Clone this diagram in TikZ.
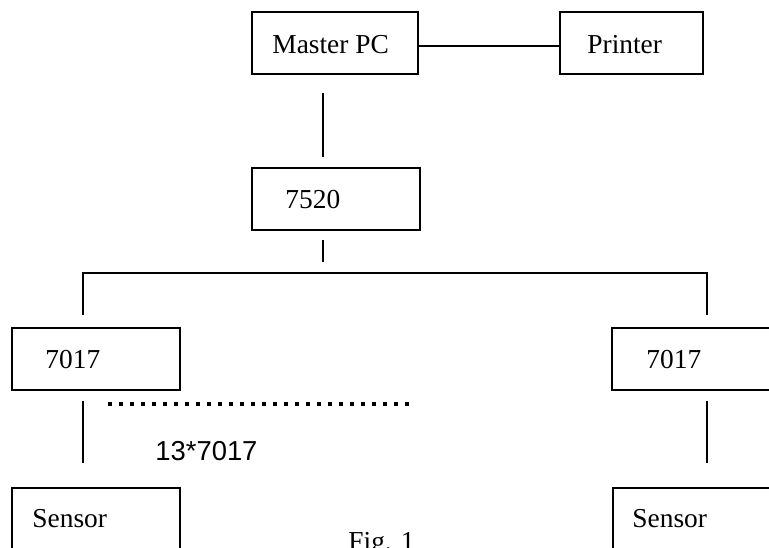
\documentclass[tikz,border=0pt]{standalone}
\usepackage{fontspec}
\setmainfont{Liberation Serif}
\setsansfont{Liberation Sans}
\begin{document}
\begin{tikzpicture}[x=0.5pt, y=-0.5pt,
    unit/.style={draw, line width=0.9pt, minimum height=31pt, inner sep=0pt, anchor=north west},
    txt/.style={anchor=base west, inner sep=0pt, font=\fontsize{13.7}{16}\selectfont},
    wire/.style={line width=0.85pt}]
    \useasboundingbox (0,0) rectangle (769,547);
    \clip (0,0) rectangle (769,547);
    \def\wide{84pt}

    % boxes
    \node[unit, minimum width=83pt] (mpc) at (251,11) {};
    \node[unit, minimum width=71.5pt] (prn) at (559,11) {};
    \node[unit, minimum width=\wide] (hub) at (251,167) {};
    \node[unit, minimum width=\wide] (modL) at (11,327) {};
    \node[unit, minimum width=\wide] (modR) at (611,327) {};
    \node[unit, minimum width=\wide] (senL) at (11,487) {};
    \node[unit, minimum width=\wide] (senR) at (612,487) {};

    % texts
    \node[txt] (mpcT) at (272,53) {Master PC};
    \node[txt] (prnT) at (587,53) {Printer};
    \node[txt] (hubT) at (285,208) {7520};
    \node[txt] (modLT) at (45,368) {7017};
    \node[txt] (modRT) at (646,368) {7017};
    \node[txt] (senLT) at (32,527) {Sensor};
    \node[txt] (senRT) at (632,527) {Sensor};
    \node[txt, font=\sffamily\fontsize{13.7}{16}\selectfont] (count) at (155,460) {13*7017};
    \node[txt] (fig) at (348,550) {Fig. 1};

    % connector ends
    \coordinate (A1) at (323,93);
    \coordinate (A2) at (323,157);
    \coordinate (B1) at (323,240);
    \coordinate (B2) at (323,262);
    \coordinate (L1) at (83,315);
    \coordinate (L2) at (83,273);
    \coordinate (R2) at (707,273);
    \coordinate (R1) at (707,315);
    \coordinate (L3) at (83,401);
    \coordinate (L4) at (83,463);
    \coordinate (R3) at (707,401);
    \coordinate (R4) at (707,463);
    \coordinate (D1) at (108,404);
    \coordinate (D2) at (413,404);

    \draw[wire] ([yshift=-1.5pt]mpc.east) -- ([yshift=-1.5pt]prn.west);
    \draw[wire] (A1) -- (A2);
    \draw[wire] (B1) -- (B2);
    \draw[wire] (L1) -- (L2) -- (R2) -- (R1);
    \draw[wire] (L3) -- (L4);
    \draw[wire] (R3) -- (R4);
    \draw[line width=2pt, dash pattern=on 1.8pt off 3.7pt] (D1) -- (D2);
\end{tikzpicture}
\end{document}
